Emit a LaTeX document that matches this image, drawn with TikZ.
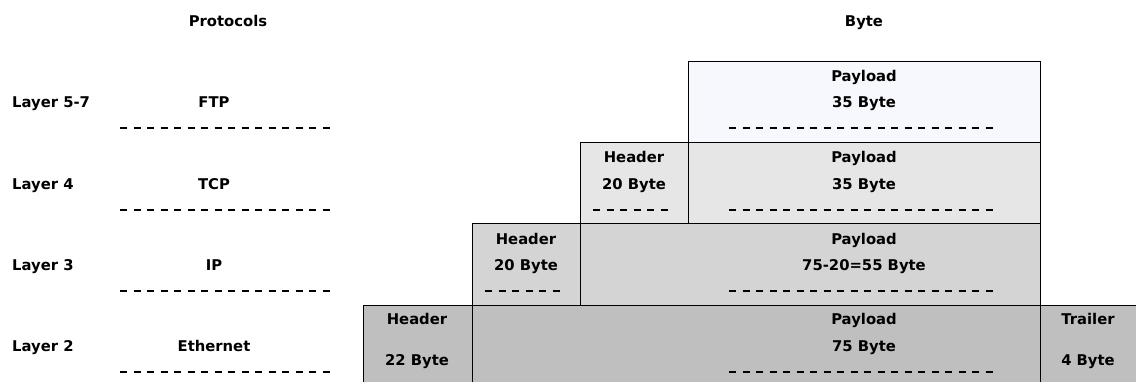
\documentclass[tikz,border=0pt]{standalone}
\usepackage{fontspec}
\setmainfont{DejaVu Sans}
\usepackage{tikz}
\usetikzlibrary{positioning}

\definecolor{appfill}{HTML}{F7F8FD}
\definecolor{tcpfill}{HTML}{E6E6E6}
\definecolor{ipfill}{HTML}{D4D4D4}
\definecolor{ethfill}{HTML}{BFBFBF}

\tikzset{
  lbl/.style={font=\fontsize{14.8}{17}\selectfont\bfseries, inner sep=0pt, anchor=base},
  cell/.style={draw=black, line width=1.3pt, inner sep=0pt, anchor=north west},
  sepline/.style={line width=2.2pt, dash pattern=on 7pt off 6.5pt}
}

\begin{document}
\begin{tikzpicture}[x=1pt,y=-1pt]

 \useasboundingbox (0,0) rectangle (1136,381);

 % titles
 \node[lbl] (prot) at (228,26.5) {Protocols};
 \node[lbl] (byte) at (864,26.5) {Byte};

 % layer names and protocols
 \node[lbl, anchor=base west] (l57) at (12,107.5) {Layer 5-7};
 \node[lbl, anchor=base west] (l4)  at (12,189) {Layer 4};
 \node[lbl, anchor=base west] (l3)  at (12,270) {Layer 3};
 \node[lbl, anchor=base west] (l2)  at (12,351) {Layer 2};

 \node[lbl] (ftp) at (214,107.5) {FTP};
 \node[lbl] (tcp) at (214,189) {TCP};
 \node[lbl] (ip)  at (214,270) {IP};
 \node[lbl] (eth) at (214,351) {Ethernet};

 \draw[sepline] (120,128.3) -- (330,128.3);
 \draw[sepline] (120,210) -- (330,210);
 \draw[sepline] (120,291) -- (330,291);
 \draw[sepline] (120,371.7) -- (330,371.7);

 % Ethernet frame
 \node[cell, fill=ethfill, minimum width=109pt, minimum height=95pt] (ethhead) at (363,305) {};
 \node[cell, fill=ethfill, minimum width=568pt, minimum height=95pt] (ethpay) at (472,305) {};
 \node[cell, fill=ethfill, minimum width=110pt, minimum height=95pt] (ethtrail) at (1040,305) {};

 % IP packet
 \node[cell, fill=ipfill, minimum width=108pt, minimum height=82pt] (iphead) at (472,223) {};
 \node[cell, fill=ipfill, minimum width=460pt, minimum height=82pt] (ippay) at (580,223) {};

 % TCP segment
 \node[cell, fill=tcpfill, minimum width=108pt, minimum height=81pt] (tcphead) at (580,142) {};
 \node[cell, fill=tcpfill, minimum width=352pt, minimum height=81pt] (tcppay) at (688,142) {};

 % FTP data
 \node[cell, fill=appfill, minimum width=352pt, minimum height=81pt] (ftppay) at (688,61) {};

 % texts in the boxes
 \node[lbl] (ftpp1) at (864,81.5) {Payload};
 \node[lbl] (ftpp2) at (864,107.5) {35 Byte};

 \node[lbl] (tcph1) at (634,162.5) {Header};
 \node[lbl] (tcph2) at (634,189) {20 Byte};
 \node[lbl] (tcpp1) at (864,162.5) {Payload};
 \node[lbl] (tcpp2) at (864,189) {35 Byte};

 \node[lbl] (iph1) at (526,244) {Header};
 \node[lbl] (iph2) at (526,270) {20 Byte};
 \node[lbl] (ipp1) at (864,244) {Payload};
 \node[lbl] (ipp2) at (864,270) {75-20=55 Byte};

 \node[lbl] (ethh1) at (417,324.5) {Header};
 \node[lbl] (ethh2) at (417,365) {22 Byte};
 \node[lbl] (ethp1) at (864,324.5) {Payload};
 \node[lbl] (ethp2) at (864,351) {75 Byte};
 \node[lbl] (etht1) at (1088,324.5) {Trailer};
 \node[lbl] (etht2) at (1088,365) {4 Byte};

 \draw[sepline] (729,128.3) -- (993,128.3);
 \draw[sepline] (729,210) -- (993,210);
 \draw[sepline] (729,291) -- (993,291);
 \draw[sepline] (729,371.7) -- (993,371.7);
 \draw[sepline] (593,210) -- (668,210);
 \draw[sepline] (485,291) -- (560,291);

\end{tikzpicture}
\end{document}
